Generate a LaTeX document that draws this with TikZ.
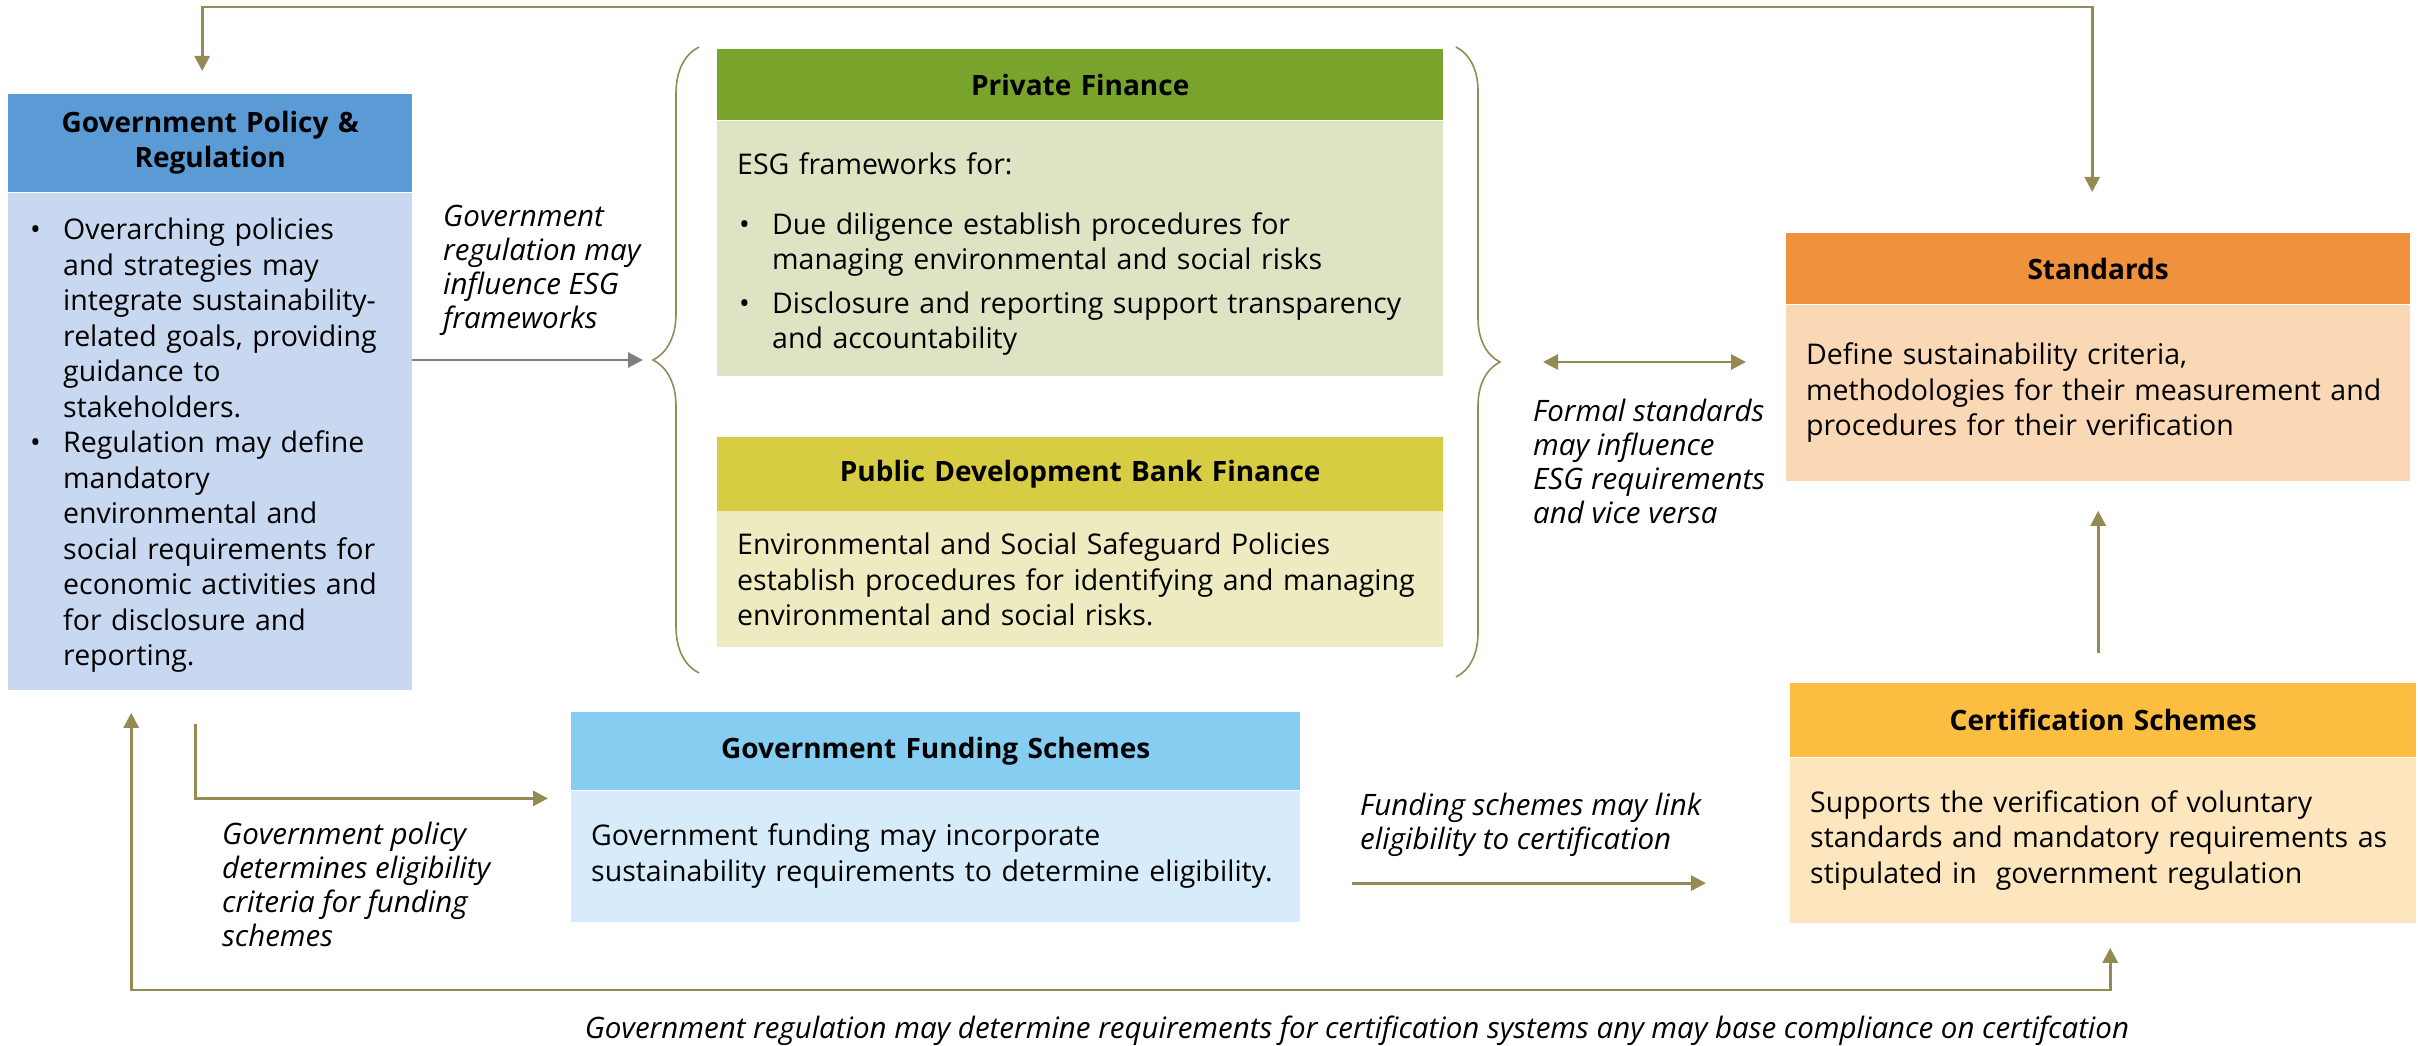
\documentclass[tikz,border=0pt]{standalone}
\usepackage{fontspec}
\setmainfont{Open Sans}
\usetikzlibrary{arrows.meta,positioning,decorations.pathreplacing}

\definecolor{polhead}{RGB}{91,155,213}
\definecolor{polbody}{RGB}{200,216,240}
\definecolor{pfhead}{RGB}{120,164,44}
\definecolor{pfbody}{RGB}{221,228,196}
\definecolor{pdbhead}{RGB}{215,205,67}
\definecolor{pdbbody}{RGB}{238,235,193}
\definecolor{stdhead}{RGB}{240,145,61}
\definecolor{stdbody}{RGB}{250,216,182}
\definecolor{certhead}{RGB}{251,190,64}
\definecolor{certbody}{RGB}{253,230,190}
\definecolor{fundhead}{RGB}{134,206,241}
\definecolor{fundbody}{RGB}{215,236,250}
\definecolor{olive}{RGB}{148,138,84}
\definecolor{greyline}{RGB}{128,128,128}

\newcommand{\bul}[1]{\noindent\hangindent=35pt\hangafter=1\makebox[35pt][l]{\hspace{2pt}\textbullet}#1\par}

\begin{document}
\begin{tikzpicture}
  [
   x=1pt,y=-1pt,
   every node/.style={font=\fontsize{28.5}{35.5}\selectfont},
   hd/.style={rectangle,inner xsep=20pt,inner ysep=0pt,align=center,font=\fontsize{28}{35}\selectfont\bfseries},
   bd/.style={rectangle,inner sep=0pt,align=left,execute at begin node={\leftskip=20pt\relax}},
   note/.style={inner sep=0pt,align=left,font=\fontsize{29.5}{34}\selectfont\itshape},
   link/.style={draw=olive,line width=2.8pt,>={Triangle[length=15pt,width=15pt]}},
   grey/.style={draw=greyline,line width=2.8pt,>={Triangle[length=15pt,width=15pt]}},
   curly/.style={draw=olive,line width=1.6pt,decorate}
  ]
   \useasboundingbox (0,0) rectangle (2418,1046);

   \node[hd,fill=polhead,anchor=north west,text width=364pt,minimum height=98pt] (polh) at (8,94)
     {Government Policy \&\\Regulation};
   \node[bd,fill=polbody,text width=404pt,minimum height=497pt] (polb) [below=0pt of polh]
     {\rule{0pt}{30pt}\bul{Overarching policies\newline and strategies may\newline integrate sustainability-\newline related goals, providing\newline guidance to\newline stakeholders.}
      \bul{Regulation may define\newline mandatory\newline environmental and\newline social requirements for\newline economic activities and\newline for disclosure and\newline reporting.}};

   \node[hd,fill=pfhead,anchor=north west,text width=686pt,minimum height=71pt] (pfh) at (717,49) {Private Finance};
   \node[bd,fill=pfbody,text width=726pt,minimum height=255pt] (pfb) [below=0pt of pfh]
     {\rule{0pt}{34pt}ESG frameworks for:\par\vspace{24pt}
      \bul{Due diligence establish procedures for\newline managing environmental and social risks}\vspace{8pt}
      \bul{Disclosure and reporting support transparency\newline and accountability}};

   \node[hd,fill=pdbhead,text width=686pt,minimum height=74pt] (pdbh) [below=61pt of pfb] {Public Development Bank Finance};
   \node[bd,fill=pdbbody,text width=726pt,minimum height=136pt] (pdbb) [below=0pt of pdbh]
     {Environmental and Social Safeguard Policies\\establish procedures for identifying and managing\\environmental and social risks.};

   \node[hd,fill=stdhead,anchor=north west,text width=584pt,minimum height=71pt] (stdh) at (1786,233) {Standards};
   \node[bd,fill=stdbody,text width=624pt,minimum height=176pt] (stdb) [below=0pt of stdh]
     {Define sustainability criteria,\\methodologies for their measurement and\\procedures for their verification};

   \node[hd,fill=certhead,anchor=north west,text width=586pt,minimum height=74pt] (certh) at (1790,683) {Certification Schemes};
   \node[bd,fill=certbody,text width=626pt,minimum height=165pt] (certb) [below=0pt of certh]
     {Supports the verification of voluntary\\standards and mandatory requirements as\\stipulated in~ government regulation};

   \node[hd,fill=fundhead,anchor=north west,text width=689pt,minimum height=78pt] (fundh) at (571,712) {Government Funding Schemes};
   \node[bd,fill=fundbody,text width=729pt,minimum height=131pt] (fundb) [below=0pt of fundh]
     {Government funding may incorporate\\sustainability requirements to determine eligibility.};

   \node[note,anchor=west] (lreg) at (443,270) {Government\\regulation may\\influence ESG\\frameworks};
   \node[note,anchor=west] (lstd) at (1533,461) {Formal standards\\may influence\\ESG requirements\\and vice versa};
   \node[note,anchor=west] (lelig) at (222,884) {Government policy\\determines eligibility\\criteria for funding\\schemes};
   \node[note,anchor=west] (llink) at (1360,825) {Funding schemes may link\\eligibility to certification};
   \node[note] (lcert) at (1357,1031) {Government regulation may determine requirements for certification systems any may base compliance on certifcation};

   \coordinate (lbt) at (653,360);
   \coordinate (rbt) at (1500,362);
   \coordinate (topbar) at (0,7);
   \coordinate (botbar) at (0,990);
   \coordinate (pola) at ([xshift=-8pt,yshift=23pt]polh.north);
   \coordinate (stda) at ([xshift=-6pt,yshift=41pt]stdh.north);
   \coordinate (polc) at ([xshift=-79pt,yshift=-23pt]polb.south);
   \coordinate (certa) at ([xshift=7pt,yshift=-25pt]certb.south);
   \coordinate (upfrom) at ([yshift=30pt]certh.north);

   \draw[curly,decoration={brace,amplitude=46pt}] (699,673) -- (699,47);
   \draw[curly,decoration={brace,amplitude=44pt}] (1456,47) -- (1456,677);

   \draw[link,<->] (pola) -- (pola |- topbar) -- (stda |- topbar) -- (stda);
   \draw[grey,->] (polb.east |- lbt) -- ([xshift=-10pt]lbt);
   \draw[link,<->] ([xshift=43pt]rbt) -- ([xshift=-40pt]stdb.west |- rbt);
   \draw[link,->] (upfrom -| stdb.south) -- ([yshift=-30pt]stdb.south);
   \draw[link,->] ([xshift=-15pt,yshift=-34pt]polb.south) |- ([xshift=-23pt,yshift=-8pt]fundb.north west);
   \draw[link,->] ([xshift=52pt,yshift=-27pt]fundb.east) -- ([xshift=-84pt,yshift=-27pt]certb.west |- fundb.east);
   \draw[link,<->] (polc) -- (polc |- botbar) -- (certa |- botbar) -- (certa);

\end{tikzpicture}
\end{document}
